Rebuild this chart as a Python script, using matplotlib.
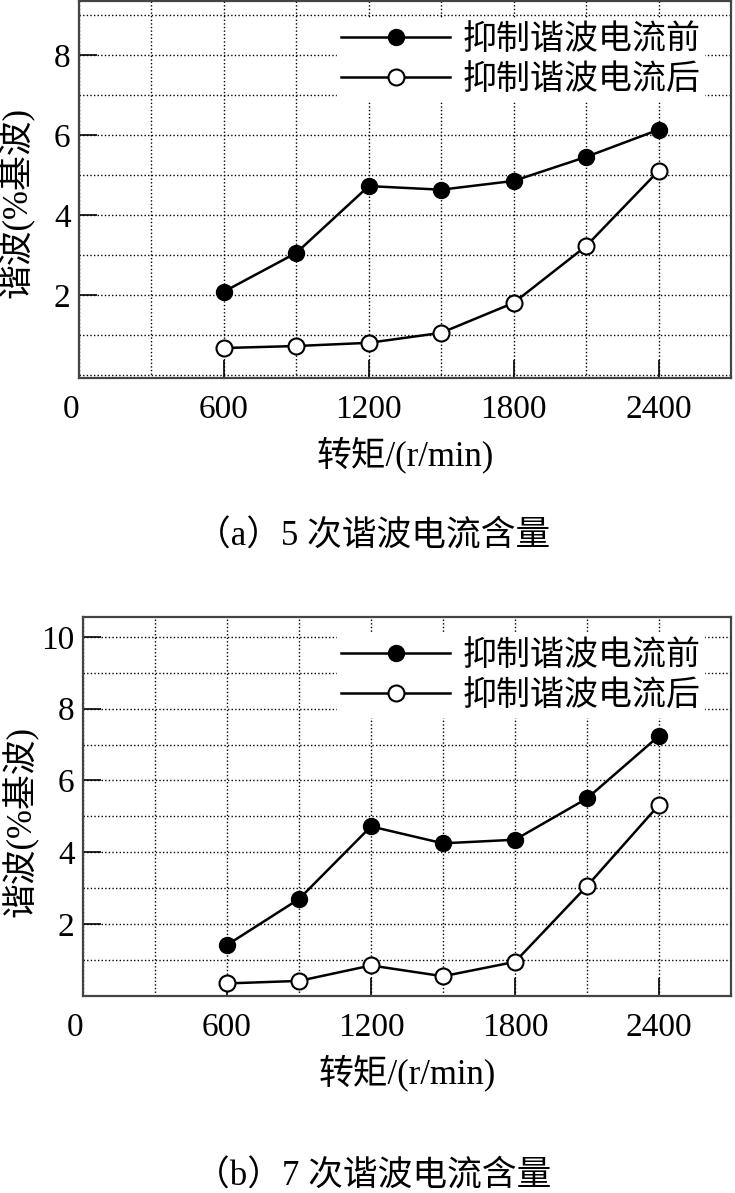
import numpy as np
import matplotlib
matplotlib.use("Agg")
import matplotlib.pyplot as plt
from matplotlib.ticker import MultipleLocator

plt.rcParams['font.family'] = ['Liberation Serif', 'Noto Sans CJK SC', 'DejaVu Sans']

speed = [600, 900, 1200, 1500, 1800, 2100, 2400]

# 5th harmonic (% of fundamental)
h5_before = [2.08, 3.05, 4.72, 4.63, 4.85, 5.45, 6.13]
h5_after = [0.67, 0.72, 0.80, 1.05, 1.80, 3.22, 5.10]

# 7th harmonic (% of fundamental)
h7_before = [1.42, 2.70, 4.72, 4.25, 4.35, 5.50, 7.24]
h7_after = [0.35, 0.42, 0.85, 0.55, 0.95, 3.06, 5.32]

series_labels = ['抑制谐波电流前', '抑制谐波电流后']
x_ticks = [0, 600, 1200, 1800, 2400]
captions = ['（a）5 次谐波电流含量', '（b）7 次谐波电流含量']

W, H = 735, 1193
fig = plt.figure(figsize=(W / 100, H / 100), dpi=100)


def make_axes(left, top, right, bottom):
    return fig.add_axes([left / W, 1 - bottom / H, (right - left) / W, (bottom - top) / H])


def draw_panel(ax, before, after, ylim, yticks, ylab_y):
    ax.plot(speed, before, '-o', color='black', lw=1.8, ms=11.5,
            mfc='black', mec='black', label=series_labels[0], zorder=3)
    ax.plot(speed, after, '-o', color='black', lw=1.8, ms=11.5,
            mfc='white', mec='black', mew=1.5, label=series_labels[1], zorder=3)

    ax.set_xlim(0, 2700)
    ax.set_ylim(*ylim)
    ax.set_xticks(x_ticks)
    ax.set_yticks(yticks)
    ax.xaxis.set_minor_locator(MultipleLocator(300))
    ax.yaxis.set_minor_locator(MultipleLocator(1))
    ax.grid(which='both', ls=(0, (1, 1.6)), color='black', lw=1.0)
    ax.tick_params(which='major', direction='in', length=13, width=1.2,
                   labelsize=24, pad=12)
    ax.tick_params(which='minor', length=0)
    ax.tick_params(axis='x', top=False)
    ax.tick_params(axis='y', right=False, pad=6)
    ax.xaxis.get_major_ticks()[0].label1.set_ha('right')
    for sp in ax.spines.values():
        sp.set_color('#444444')
        sp.set_linewidth(1.6)

    ax.set_xlabel('转矩/(r/min)', fontsize=25, labelpad=8)
    ax.set_ylabel('谐波(%基波)', fontsize=25)
    ax.yaxis.set_label_coords(-0.068, ylab_y)

    leg = ax.legend(loc='upper right', bbox_to_anchor=(0.985, 1.0), frameon=True,
                    fancybox=False, edgecolor='white', framealpha=1,
                    handlelength=3.2, handletextpad=0.35, labelspacing=0.15,
                    borderpad=0.12, prop={'family': ['Noto Sans CJK SC'], 'size': 24.5})
    leg.set_zorder(5)


ax1 = make_axes(79, 1, 731, 378)
draw_panel(ax1, h5_before, h5_after, (-0.08, 9.35), [2, 4, 6, 8], 0.465)

ax2 = make_axes(83, 617, 731, 996)
draw_panel(ax2, h7_before, h7_after, (0, 10.55), [2, 4, 6, 8, 10], 0.46)

fig.text(373 / W, 1 - 537 / H, captions[0], ha='center', va='center',
         fontsize=25, family=['Liberation Serif', 'Noto Sans CJK SC'])
fig.text(373 / W, 1 - 1177 / H, captions[1], ha='center', va='center',
         fontsize=25, family=['Liberation Serif', 'Noto Sans CJK SC'])

fig.savefig('out.png', dpi=100, facecolor='white')
